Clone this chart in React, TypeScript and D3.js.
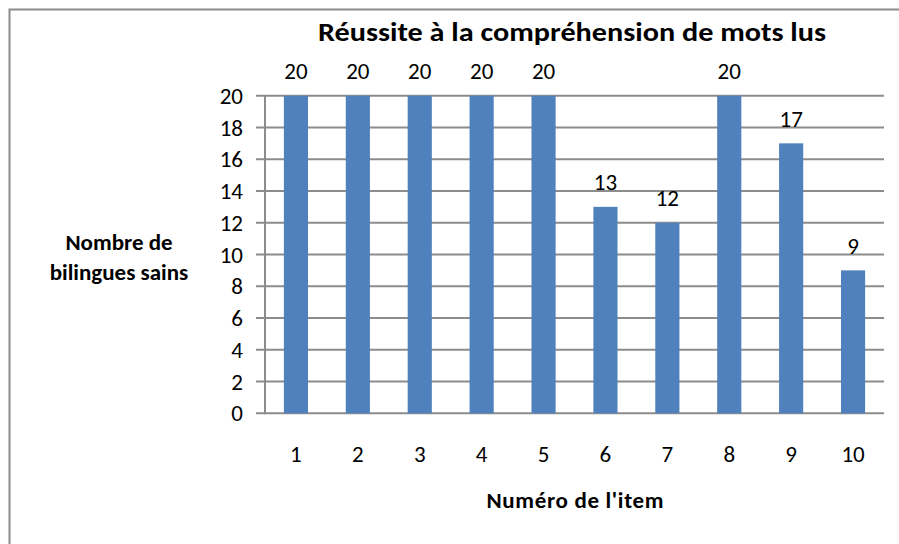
import React from "react";
import * as d3 from "d3";

const categories = ["1", "2", "3", "4", "5", "6", "7", "8", "9", "10"];
const values = [20, 20, 20, 20, 20, 13, 12, 20, 17, 9];
const yTicks = [0, 2, 4, 6, 8, 10, 12, 14, 16, 18, 20];
const title = "Réussite à la compréhension de mots lus";
const yTitle = ["Nombre de", "bilingues sains"];
const xTitle = "Numéro de l'item";

export default function App() {
  const W = 899, H = 544;
  const left = 265, right = 884, top = 95.7, bottom = 413.3;
  const x = d3.scaleBand().domain(categories).range([left, right]).paddingInner(0.61).paddingOuter(0.305);
  const y = d3.scaleLinear().domain([0, 20]).range([bottom, top]);
  const font = "Carlito, Calibri, 'Open Sans', sans-serif";
  const grid = "#8c8c8c";
  return (
    <svg width={W} height={H} style={{ position: "absolute", left: 0, top: 0, fontFamily: font }}>
      <rect x={0} y={0} width={W} height={H} fill="#fff" />
      <rect x={9.5} y={9.5} width={W + 20} height={H + 20} fill="none" stroke="#8c8c8c" strokeWidth={2} />
      <text x={572} y={41} textAnchor="middle" fontSize={27} fontWeight="bold" fill="#000" textLength={508} lengthAdjust="spacingAndGlyphs">{title}</text>
      {yTicks.map((t) => (
        <g key={t}>
          <line x1={left - 9} x2={right} y1={y(t)} y2={y(t)} stroke={grid} strokeWidth={2} />
          <text x={243} y={y(t)} dy="0.35em" textAnchor="end" fontSize={23} fill="#000">{t}</text>
        </g>
      ))}
      <line x1={left} x2={left} y1={top} y2={bottom + 1} stroke={grid} strokeWidth={2} />
      {categories.map((c, i) => (
        <g key={c}>
          <rect x={x(c)!} y={y(values[i])} width={x.bandwidth()} height={bottom - y(values[i])} fill="#4f81bd" />
          <text x={x(c)! + x.bandwidth() / 2} y={y(values[i]) - 16.5} textAnchor="middle" fontSize={23} fill="#000">{values[i]}</text>
          <text x={x(c)! + x.bandwidth() / 2} y={462} textAnchor="middle" fontSize={23} fill="#000">{c}</text>
        </g>
      ))}
      <text textAnchor="middle" fontSize={23} fontWeight="bold" fill="#000">
        <tspan x={119} y={250}>{yTitle[0]}</tspan>
        <tspan x={119} y={280}>{yTitle[1]}</tspan>
      </text>
      <text x={575} y={508} textAnchor="middle" fontSize={23} fontWeight="bold" fill="#000" textLength={177} lengthAdjust="spacing">{xTitle}</text>
    </svg>
  );
}
